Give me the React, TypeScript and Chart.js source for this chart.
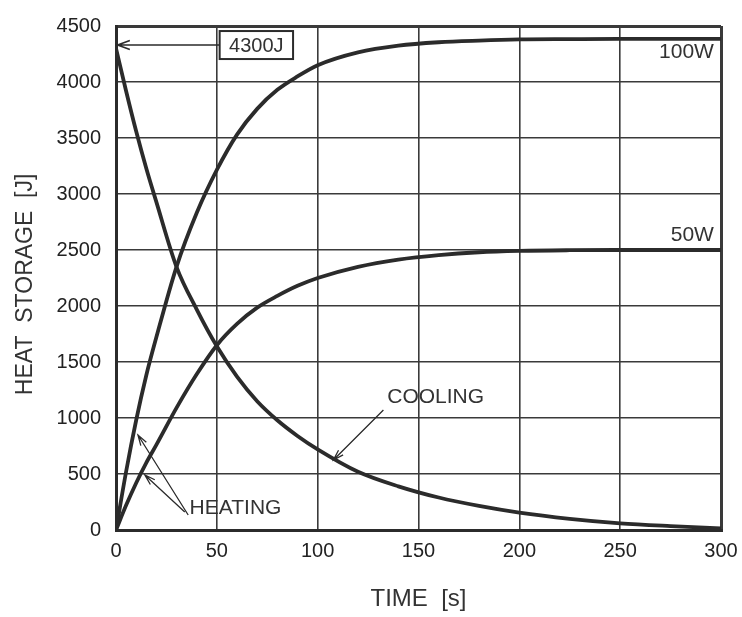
import React, { useEffect, useRef } from 'react';
import { Chart, registerables } from 'chart.js';

Chart.register(...registerables);

// ---- Data ----
const timeSec = [0, 5, 10, 15, 20, 30, 40, 50, 60, 70, 80, 90, 100, 120, 140, 160, 180, 200, 225, 250, 275, 300];
const heating100W = [0, 520, 980, 1380, 1720, 2350, 2830, 3215, 3530, 3760, 3930, 4050, 4150, 4265, 4325, 4355, 4370, 4380, 4383, 4385, 4385, 4385];
const heating50W = [0, 220, 420, 600, 760, 1090, 1390, 1650, 1840, 1985, 2090, 2180, 2250, 2350, 2415, 2455, 2480, 2492, 2498, 2500, 2500, 2500];
const cooling = [4300, 3920, 3560, 3230, 2930, 2350, 1970, 1640, 1370, 1150, 980, 840, 720, 520, 390, 290, 215, 155, 100, 60, 35, 15];

const xTicks = [0, 50, 100, 150, 200, 250, 300];
const yTicks = [0, 500, 1000, 1500, 2000, 2500, 3000, 3500, 4000, 4500];

const xTitle = 'TIME  [s]';
const yTitle = 'HEAT  STORAGE  [J]  ';

// annotation texts (anchors in data units)
const peakLabel = '4300J';
const label100 = '100W';
const label50 = '50W';
const heatingLabel = 'HEATING';
const coolingLabel = 'COOLING';

const INK = '#2b2b2b';
const FONT = '"Liberation Sans", Arial, sans-serif';

function toPoints(ys: number[]) {
  return ys.map((v, i) => ({ x: timeSec[i], y: v }));
}

function arrow(ctx: CanvasRenderingContext2D, x1: number, y1: number, x2: number, y2: number, head = 10, spread = 0.4) {
  ctx.beginPath();
  ctx.moveTo(x1, y1);
  ctx.lineTo(x2, y2);
  const a = Math.atan2(y2 - y1, x2 - x1);
  ctx.moveTo(x2 - head * Math.cos(a - spread), y2 - head * Math.sin(a - spread));
  ctx.lineTo(x2, y2);
  ctx.lineTo(x2 - head * Math.cos(a + spread), y2 - head * Math.sin(a + spread));
  ctx.stroke();
}

const notesPlugin = {
  id: 'notes',
  afterDraw(chart: any) {
    const { ctx, scales } = chart;
    const X = (v: number) => scales.x.getPixelForValue(v);
    const Y = (v: number) => scales.y.getPixelForValue(v);
    ctx.save();
    ctx.strokeStyle = INK;
    ctx.fillStyle = '#333';

    // 4300J box + arrow
    const bx1 = X(51.4), bx2 = X(87.8);
    const by = Y(4330);
    ctx.fillStyle = '#fff';
    ctx.fillRect(bx1, by - 14, bx2 - bx1, 28);
    ctx.lineWidth = 2;
    ctx.strokeRect(bx1, by - 14, bx2 - bx1, 28);
    ctx.fillStyle = '#333';
    ctx.font = `20px ${FONT}`;
    ctx.textAlign = 'center';
    ctx.textBaseline = 'middle';
    ctx.fillText(peakLabel, (bx1 + bx2) / 2, by + 1);
    ctx.lineWidth = 1.6;
    arrow(ctx, bx1, by, X(0.8), by, 13, 0.35);

    // series labels
    ctx.textAlign = 'right';
    ctx.font = `21px ${FONT}`;
    ctx.fillText(label100, X(296.5), Y(4268));
    ctx.fillText(label50, X(296.5), Y(2634));

    // HEATING
    ctx.textAlign = 'left';
    ctx.font = `21px ${FONT}`;
    ctx.fillText(heatingLabel, X(36.5), Y(196));
    ctx.lineWidth = 1.3;
    arrow(ctx, X(35.8), Y(134), X(10.9), Y(848), 11, 0.3);
    arrow(ctx, X(34.1), Y(161), X(14.3), Y(491), 11, 0.3);

    // COOLING
    ctx.fillText(coolingLabel, X(134.5), Y(1188));
    arrow(ctx, X(132.6), Y(1072), X(107.8), Y(625), 11, 0.3);
    ctx.restore();
  },
};

export default function App() {
  const ref = useRef<HTMLCanvasElement | null>(null);
  useEffect(() => {
    if (!ref.current) return;
    const lineDs = (data: number[]) => ({
      data: toPoints(data),
      borderColor: INK,
      borderWidth: 3.8,
      pointRadius: 0,
      fill: false,
      cubicInterpolationMode: 'monotone' as const,
    });
    const gridWidth = (ctx: any, last: number) => (ctx.tick && (ctx.tick.value === last || ctx.tick.value === 0) ? 3 : 1.6);
    const chart = new Chart(ref.current, {
      type: 'line',
      data: {
        datasets: [lineDs(heating100W), lineDs(heating50W), lineDs(cooling)],
      },
      options: {
        animation: false,
        responsive: false,
        events: [],
        layout: { padding: { top: 26, right: 21, left: 0, bottom: 0 } },
        plugins: { legend: { display: false }, tooltip: { enabled: false } },
        scales: {
          x: {
            type: 'linear',
            min: 0,
            max: 300,
            afterBuildTicks: (s: any) => { s.ticks = xTicks.map((v) => ({ value: v })); },
            afterFit: (s: any) => { s.height = 87; s.paddingRight = 0; s.paddingLeft = 0; },
            grid: { color: '#3a3a3a', lineWidth: (c: any) => gridWidth(c, 300), drawTicks: false },
            border: { color: INK, width: 3 },
            ticks: { color: '#222', font: { family: FONT, size: 20 }, padding: 9, maxRotation: 0, callback: (v: any) => String(v) },
            title: { display: true, text: xTitle, color: '#333', font: { family: FONT, size: 24 }, padding: { top: 0, bottom: 3 } },
          },
          y: {
            type: 'linear',
            min: 0,
            max: 4500,
            afterBuildTicks: (s: any) => { s.ticks = yTicks.map((v) => ({ value: v })); },
            afterFit: (s: any) => { s.width = 116; s.paddingTop = 0; s.paddingBottom = 0; },
            grid: { color: '#3a3a3a', lineWidth: (c: any) => gridWidth(c, 4500), drawTicks: false },
            border: { color: INK, width: 3 },
            ticks: { color: '#222', font: { family: FONT, size: 20 }, padding: 15, callback: (v: any) => String(v) },
            title: { display: true, text: yTitle, color: '#333', font: { family: FONT, size: 23 }, padding: { top: 12, bottom: 0 } },
          },
        },
      },
      plugins: [notesPlugin],
    });
    return () => chart.destroy();
  }, []);
  return (
    <div style={{ position: 'absolute', left: 0, top: 0, width: 742, height: 617, background: '#fff' }}>
      <canvas ref={ref} width={742} height={617} />
    </div>
  );
}
